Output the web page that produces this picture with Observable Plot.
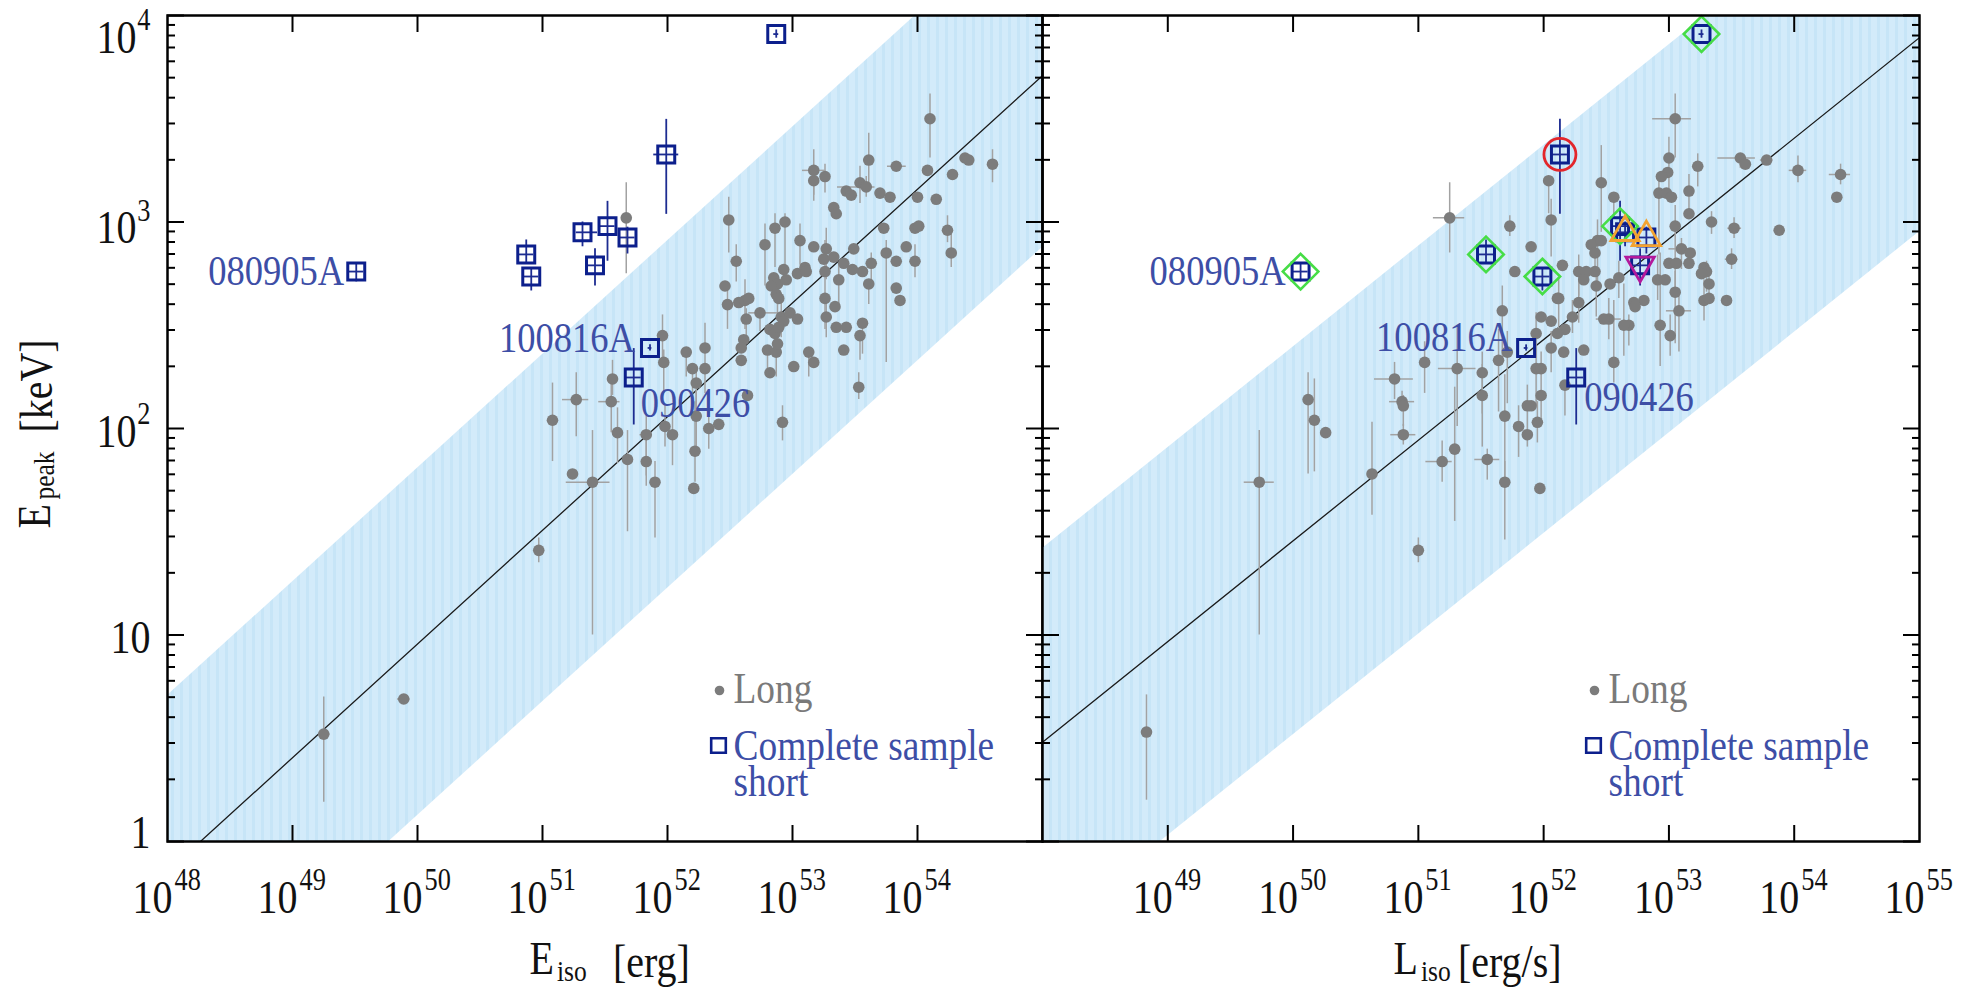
<!DOCTYPE html>
<html>
<head>
<meta charset="utf-8">
<script src="https://cdn.jsdelivr.net/npm/d3@7"></script>
<script src="https://cdn.jsdelivr.net/npm/@observablehq/plot@0.6"></script>
<style>
html, body { margin: 0; padding: 0; background: #fff; }
#chart { position: relative; width: 1975px; height: 988px; overflow: hidden; background: #fff; }
#chart svg { position: absolute; top: 0; }
</style>
</head>
<body>
<div id="chart"></div>
<script>
// ================= DATA =================
// Long GRBs, left panel: [log10 Eiso, log10 Epeak, errDown, errUp, errLeft, errRight] (dex)
const longEiso = [
  [54.10,3.50,0.19,0.12,0,0],[53.61,3.30,0.13,0.13,0,0],[53.83,3.27,0,0,0.07,0.08],[54.08,3.25,0,0,0,0],
  [54.38,3.31,0,0,0,0],[54.41,3.30,0,0,0,0],[54.60,3.28,0.09,0.07,0,0],[54.28,3.23,0,0,0,0],
  [53.17,3.25,0.12,0.10,0.09,0.09],[53.17,3.20,0.10,0,0,0],[53.26,3.22,0.08,0.06,0,0],[53.54,3.19,0.10,0.08,0,0],
  [53.59,3.17,0.05,0.05,0.23,0.07],[53.43,3.15,0,0,0,0],[53.47,3.13,0,0,0,0],[53.70,3.14,0,0,0,0],
  [53.78,3.12,0,0,0,0],[54.00,3.12,0,0,0,0],[54.15,3.11,0,0,0,0],[53.33,3.07,0,0,0,0],
  [53.35,3.04,0,0,0,0],[52.49,3.01,0.16,0.11,0,0],[52.86,2.97,0.19,0.07,0,0],[52.94,3.00,0.30,0.04,0,0],
  [53.73,2.97,0,0,0,0],[53.98,2.97,0,0,0,0],[54.01,2.98,0,0,0,0],[54.24,2.96,0.06,0.07,0,0],
  [52.78,2.89,0.20,0.10,0,0],[53.06,2.91,0.12,0.08,0,0],[53.17,2.88,0,0,0,0],[53.27,2.87,0.15,0.10,0,0],
  [53.49,2.87,0,0,0,0],[53.75,2.85,0.53,0.06,0,0],[53.91,2.88,0,0,0,0],[54.27,2.85,0.07,0.09,0,0],
  [52.55,2.81,0.10,0.08,0,0],[53.25,2.82,0,0,0,0],[53.33,2.83,0,0,0,0],[53.41,2.80,0,0,0,0],
  [53.63,2.80,0.10,0.05,0,0],[53.83,2.81,0,0,0,0],[53.98,2.81,0.08,0.08,0,0],[52.93,2.77,0,0,0,0],
  [53.04,2.75,0,0,0,0],[53.10,2.78,0,0,0,0],[53.11,2.76,0,0,0,0],[53.26,2.76,0,0,0,0],
  [53.48,2.77,0,0,0,0],[53.56,2.76,0,0,0,0],[52.85,2.73,0,0,0,0],[52.88,2.70,0.15,0,0,0],
  [52.95,2.72,0,0,0,0],[53.37,2.72,0.12,0.08,0,0],[53.61,2.70,0.10,0,0,0],[52.46,2.69,0,0,0,0],
  [52.83,2.69,0,0,0,0],[53.83,2.68,0,0,0,0],[53.86,2.62,0,0,0,0],[52.48,2.60,0.12,0.10,0,0],
  [52.57,2.61,0,0,0,0],[52.62,2.62,0.14,0.10,0,0],[52.65,2.63,0,0,0,0],[52.87,2.65,0,0,0,0],
  [52.89,2.63,0,0,0,0],[53.26,2.63,0.15,0.28,0,0],[53.34,2.59,0,0,0,0],[52.74,2.56,0.09,0,0.09,0.15],
  [52.63,2.53,0.10,0.05,0,0],[52.91,2.54,0.10,0.10,0,0],[52.98,2.56,0,0,0,0],[53.04,2.53,0,0,0,0],
  [52.93,2.52,0,0,0,0],[53.27,2.54,0.10,0.10,0,0],[53.56,2.51,0.15,0,0,0],[52.82,2.48,0,0,0,0],
  [52.86,2.46,0,0,0,0],[52.89,2.49,0,0,0,0],[53.35,2.49,0,0,0,0],[53.43,2.49,0,0,0,0],
  [53.54,2.45,0.12,0,0,0],[52.61,2.43,0,0,0,0],[52.59,2.39,0,0,0,0],[52.80,2.38,0.10,0,0,0],
  [52.87,2.37,0.12,0.12,0,0],[52.88,2.41,0,0,0,0],[53.13,2.37,0.12,0,0,0],[53.17,2.32,0,0,0,0],
  [53.41,2.38,0,0,0,0],[52.30,2.39,0.10,0.12,0,0],[52.15,2.37,0.12,0,0,0],[51.96,2.45,0.13,0.10,0,0],
  [51.97,2.32,0.15,0.06,0,0],[52.59,2.33,0,0,0,0],[52.20,2.29,0.15,0,0,0],[52.30,2.29,0.12,0,0,0],
  [52.23,2.22,0.15,0.08,0,0],[52.82,2.27,0,0,0,0],[53.01,2.30,0,0,0,0],[51.56,2.24,0.08,0.09,0,0],
  [51.55,2.13,0.15,0.10,0.10,0.07],[51.27,2.14,0.18,0.13,0.11,0.10],[52.64,2.16,0,0,0,0],[53.53,2.20,0.06,0.07,0,0],
  [51.08,2.04,0.20,0.18,0,0],[51.60,1.98,0.15,0.12,0,0],[51.83,1.97,0.20,0.10,0.05,0.05],[51.98,2.01,0.10,0.10,0,0],
  [52.04,1.97,0.15,0.10,0,0],[52.23,2.06,0.15,0.12,0,0],[52.33,2.00,0.10,0.08,0,0],[52.41,2.02,0,0,0,0],
  [52.92,2.03,0.09,0.08,0,0],[51.68,1.85,0.35,0.14,0,0],[51.83,1.84,0.12,0.10,0,0],[52.22,1.89,0.15,0.24,0,0],
  [51.24,1.78,0,0,0,0],[51.40,1.74,0.74,0.25,0.21,0.14],[51.90,1.74,0.27,0.10,0,0],[52.21,1.71,0,0,0,0],
  [51.67,3.02,0.27,0.17,0,0],[50.97,1.41,0.06,0.06,0,0],[49.25,0.52,0.33,0.18,0,0.05],[49.89,0.69,0,0,0.05,0.05]
];

// Long GRBs, right panel: [log10 Liso, log10 Epeak, errDown, errUp, errLeft, errRight] (dex)
const longLiso = [
  [51.25,3.02,0.17,0.17,0.13,0.12],[51.73,2.98,0.05,0.05,0,0],[51.90,2.88,0,0,0,0],[52.04,3.20,0.16,0,0,0],
  [52.06,3.01,0.18,0.10,0,0],[52.15,2.79,0,0,0,0],[51.77,2.76,0,0,0,0],[51.67,2.57,0.25,0.12,0,0],
  [52.11,2.63,0,0,0,0],[51.98,2.54,0,0,0,0],[52.06,2.52,0,0,0,0],[52.23,2.54,0.08,0.08,0,0],
  [52.17,2.48,0,0,0,0],[52.11,2.46,0,0,0,0],[51.94,2.46,0.12,0.10,0,0],[51.05,2.32,0.15,0.10,0,0],
  [51.31,2.29,0.28,0.20,0.15,0.15],[50.81,2.24,0.10,0.08,0.16,0.15],[51.51,2.27,0.20,0.10,0,0],[51.64,2.33,0.25,0.15,0,0],
  [51.71,2.37,0.25,0.10,0,0],[52.06,2.39,0.12,0.08,0,0],[52.16,2.37,0,0,0,0],[52.32,2.38,0,0,0,0],
  [51.94,2.29,0.18,0.10,0,0],[51.98,2.29,0.12,0.08,0,0],[51.98,2.16,0.12,0,0,0],[51.51,2.16,0.25,0.15,0,0],
  [51.69,2.06,0.30,0.20,0,0],[51.87,2.11,0.20,0.10,0,0],[51.90,2.11,0,0,0,0],[51.95,2.03,0.10,0.10,0,0],
  [51.80,2.01,0.15,0.10,0,0],[51.87,1.97,0,0,0,0],[50.12,2.14,0.36,0.13,0,0],[50.17,2.04,0.25,0.20,0,0],
  [50.26,1.98,0,0,0,0],[50.87,2.13,0.05,0.05,0.10,0.10],[50.88,2.11,0.10,0.05,0,0],[50.88,1.97,0.05,0.05,0.10,0.10],
  [51.29,1.90,0.35,0.30,0,0],[51.19,1.84,0.10,0.10,0.13,0.08],[51.55,1.85,0.10,0.05,0.10,0.10],[50.63,1.78,0.20,0.25,0,0],
  [49.73,1.74,0.74,0.25,0.12,0.12],[51.69,1.74,0.28,0.10,0,0],[51.97,1.71,0,0,0,0],
  [53.05,3.50,0.19,0.12,0.18,0.13],[53.57,3.31,0.05,0,0.18,0.12],[53.61,3.28,0,0,0,0],[53.78,3.30,0,0,0.05,0.05],
  [54.03,3.25,0.06,0.07,0.07,0.07],[54.37,3.23,0.05,0.05,0.09,0.08],[54.34,3.12,0,0,0,0],[53.88,2.96,0,0,0,0],
  [53.23,3.27,0.10,0.06,0,0],[53.00,3.31,0.20,0.10,0,0],[52.99,3.24,0,0,0,0],[52.94,3.22,0,0,0,0],
  [52.92,3.14,0.30,0.10,0,0],[52.98,3.14,0,0,0,0],[53.02,3.12,0,0,0,0],[53.16,3.15,0.10,0.08,0,0],
  [52.46,3.19,0.24,0.18,0,0],[52.56,3.12,0.10,0,0,0],[53.34,3.00,0.06,0.05,0,0],[53.52,2.97,0.05,0.05,0.05,0.06],
  [53.05,2.98,0.30,0.10,0,0],[53.16,3.04,0,0,0,0],[53.50,2.82,0.05,0.05,0.05,0.05],[53.10,2.87,0.10,0.05,0.10,0.10],
  [53.17,2.85,0,0,0,0],[53.16,2.80,0,0,0,0],[53.00,2.80,0,0,0,0],[53.06,2.80,0,0,0,0],
  [53.28,2.78,0,0,0,0],[53.30,2.76,0.10,0.05,0,0],[53.26,2.75,0,0,0,0],[53.32,2.70,0.10,0.05,0,0],
  [53.28,2.62,0.10,0.10,0,0],[53.32,2.63,0,0,0,0],[53.46,2.62,0,0,0,0],[53.05,2.66,0.25,0.10,0,0],
  [53.08,2.57,0.20,0.10,0.10,0.10],[53.01,2.45,0.10,0.10,0,0],[52.93,2.50,0.20,0.35,0,0],[52.91,2.72,0.10,0.12,0,0],
  [52.97,2.72,0,0,0,0],[52.80,2.62,0,0,0,0],[52.72,2.61,0,0,0,0],[52.73,2.59,0,0,0,0],
  [52.68,2.50,0.10,0.05,0,0],[52.64,2.50,0.15,0.20,0,0],[52.52,2.53,0.10,0.10,0.10,0.10],[52.48,2.53,0,0,0,0],
  [52.56,2.32,0.10,0.30,0,0],[52.60,2.73,0.10,0.08,0,0],[52.53,2.70,0,0,0,0],[52.43,2.91,0.20,0.10,0,0],
  [52.38,2.89,0,0,0,0],[52.41,2.85,0.10,0,0,0],[52.46,2.91,0,0,0,0],[52.28,2.76,0.12,0.08,0,0],
  [52.34,2.76,0,0,0,0],[52.32,2.72,0,0,0,0],[52.41,2.76,0,0,0,0],[52.42,2.69,0.15,0.08,0,0],
  [52.28,2.61,0.10,0.10,0,0],[52.12,2.63,0.15,0.10,0,0],[52.17,2.21,0.15,0,0,0],
  [51.00,1.41,0.06,0.06,0,0],[48.83,0.53,0.33,0.18,0,0]
];

// Short GRBs (complete sample)
const shortNames     = ["080905A","","","","","","","","100816A","090426",""];
const shortLogEiso   = [49.51,50.87,50.91,51.32,51.52,51.42,51.68,51.99,51.86,51.73,52.87];
const shortLogLiso   = [50.06,51.54,51.99,52.65,52.61,52.77,52.82,52.13,51.86,52.26,53.26];
const shortLogEp     = [2.760,2.843,2.736,2.950,2.980,2.790,2.925,3.327,2.390,2.247,3.910];
const shortEpErrDown = [0.05,0.04,0.07,0.07,0.17,0.10,0.08,0.29,0.015,0.23,0.02];
const shortEpErrUp   = [0.04,0.07,0.04,0.05,0.12,0.08,0.05,0.17,0.015,0.14,0.02];
const shortEisoErrL  = [0.06,0.06,0.06,0.05,0.06,0.06,0.06,0.10,0.015,0.06,0.02];
const shortEisoErrR  = [0.06,0.06,0.06,0.12,0.06,0.06,0.06,0.10,0.015,0.06,0.02];
const shortLisoErr   = [0.06,0.06,0.06,0.06,0.06,0.06,0.06,0.06,0.015,0.06,0.02];
const shortMarker    = ["diamond","diamond","diamond","triangleUp","diamond","triangleDown","triangleUp","circle","","","diamond"];

// Correlation lines and 3-sigma bands: [log10 x, log10 Epeak] at panel edges
const amatiFit        = [[48,-0.145],[55,3.709]];
const amatiBandUpper  = [[48, 0.707],[55,4.560]];
const amatiBandLower  = [[48,-0.975],[55,2.877]];
const yonetokuFit       = [[48,0.481],[55,3.893]];
const yonetokuBandUpper = [[48,1.419],[55,4.833]];
const yonetokuBandLower = [[48,-0.459],[55,2.953]];

// Ticks and tick labels
const xTickValues   = [1e49,1e50,1e51,1e52,1e53,1e54];
const xLabelExpLeft = [48,49,50,51,52,53,54];
const xLabelExpRight= [49,50,51,52,53,54,55];
const yMajorTicks   = [1,10,100,1000,10000];
const yMinorTicks   = [2,3,4,5,6,7,8,9,20,30,40,50,60,70,80,90,200,300,400,500,600,700,800,900,2000,3000,4000,5000,6000,7000,8000,9000];
const yTickLabels   = [{v:1,base:"1",exp:""},{v:10,base:"10",exp:""},{v:100,base:"10",exp:"2"},{v:1000,base:"10",exp:"3"},{v:10000,base:"10",exp:"4"}];
const legendLabels  = ["Long","Complete sample\nshort"];

// ================= HELPERS =================
const SERIF = "Liberation Serif";
const rows = arr => arr.map(([lx, ly, dn, up, lf, rt]) => ({
  x: 10 ** lx, y: 10 ** ly, y1: 10 ** (ly - dn), y2: 10 ** (ly + up),
  x1: 10 ** (lx - lf), x2: 10 ** (lx + rt), v: dn > 0 || up > 0, h: lf > 0 || rt > 0
}));
const lineRows = arr => arr.map(([lx, ly]) => ({x: 10 ** lx, y: 10 ** ly}));
const bandRows = (up, lo) => up.map(([lx, hi], i) => ({x: 10 ** lx, hi: 10 ** hi, lo: 10 ** lo[i][1]}));
const shortRows = (xs, errL, errR) => shortLogEp.map((ly, i) => ({
  name: shortNames[i], marker: shortMarker[i],
  x: 10 ** xs[i], y: 10 ** ly,
  y1: 10 ** (ly - shortEpErrDown[i]), y2: 10 ** (ly + shortEpErrUp[i]),
  x1: 10 ** (xs[i] - errL[i]), x2: 10 ** (xs[i] + errR[i])
}));
const triangleDown = {
  draw(context, size) {
    const s = Math.sqrt(size) * 0.6824, t = s / 2, u = s * Math.sqrt(3) / 2;
    context.moveTo(0, s); context.lineTo(u, -t); context.lineTo(-u, -t); context.closePath();
  }
};

// font sizes (text is later condensed horizontally, like the original narrow Times face)
const FS_TICK = 47, FS_EXP = 31, FS_TITLE = 47, FS_SUB = 30, FS_LABEL = 43, FS_LEGEND = 44;

function buildPanel(cfg) {
  const {width, marginLeft, marginRight, left, longData, shorts, fit, band, patternId,
         xExps, showYLabels, title, labelStyles, showMarkers} = cfg;
  const labelBlue = "#3d4ea6";
  const T = {fontFamily: SERIF, lineAnchor: "middle"};
  const marks = [
    Plot.areaY(band, {x: "x", y1: "lo", y2: "hi", fill: `url(#${patternId})`, clip: true}),
    Plot.line(fit, {x: "x", y: "y", stroke: "#1a1a1a", strokeWidth: 1.3, clip: true}),
    Plot.ruleX(longData.filter(d => d.v), {x: "x", y1: "y1", y2: "y2", stroke: "#a2a2a2", strokeWidth: 1.5, clip: true}),
    Plot.ruleY(longData.filter(d => d.h), {y: "y", x1: "x1", x2: "x2", stroke: "#a2a2a2", strokeWidth: 1.5, clip: true}),
    Plot.dot(longData, {x: "x", y: "y", r: 5.8, fill: "#7c7c7c"}),
    Plot.ruleX(shorts, {x: "x", y1: "y1", y2: "y2", stroke: "#1d2c91", strokeWidth: 1.8}),
    Plot.ruleY(shorts, {y: "y", x1: "x1", x2: "x2", stroke: "#1d2c91", strokeWidth: 1.8}),
    Plot.dot(shorts, {x: "x", y: "y", symbol: "square2", r: 10.8, stroke: "#0c1f8c", strokeWidth: 3, fill: "none"})
  ];
  if (showMarkers) {
    marks.push(
      Plot.dot(shorts.filter(d => d.marker === "diamond"), {x: "x", y: "y", symbol: "diamond2", r: 16, stroke: "#46dd46", strokeWidth: 2.6, fill: "none"}),
      Plot.dot(shorts.filter(d => d.marker === "circle"), {x: "x", y: "y", symbol: "circle", r: 16, stroke: "#e3262b", strokeWidth: 2.8, fill: "none"}),
      Plot.dot(shorts.filter(d => d.marker === "triangleUp"), {x: "x", y: "y", symbol: "triangle2", r: 13.5, stroke: "#f3a331", strokeWidth: 2.8, fill: "none"}),
      Plot.dot(shorts.filter(d => d.marker === "triangleDown"), {x: "x", y: "y", symbol: triangleDown, r: 13.5, stroke: "#b3199c", strokeWidth: 2.8, fill: "none"})
    );
  }
  for (const ls of labelStyles) {
    marks.push(Plot.text(shorts.filter(d => d.name === ls.name), {
      x: "x", y: "y", text: "name", textAnchor: ls.anchor, dx: ls.dx, dy: ls.dy,
      fill: labelBlue, fontSize: FS_LABEL, ...T
    }));
  }
  // legend (inside the frame)
  marks.push(
    Plot.dot([0], {frameAnchor: "bottom-left", dx: 552, dy: -151, r: 4.8, fill: "#7c7c7c"}),
    Plot.text([legendLabels[0]], {text: d => d, frameAnchor: "bottom-left", dx: 566, dy: -153, textAnchor: "start", fill: "#7a7a7a", fontSize: FS_LEGEND, ...T}),
    Plot.dot([0], {frameAnchor: "bottom-left", dx: 551, dy: -96, symbol: "square2", r: 9.3, stroke: "#0c1f8c", strokeWidth: 2.6, fill: "none"}),
    Plot.text([legendLabels[1]], {text: d => d, frameAnchor: "bottom-left", dx: 566, dy: -75, lineHeight: 0.82, textAnchor: "start", fill: labelBlue, fontSize: FS_LEGEND, ...T})
  );
  // x tick labels 10^n
  marks.push(
    Plot.text(xExps, {x: d => 10 ** d, text: () => "10", frameAnchor: "bottom", textAnchor: "end", dx: 5, dy: 56, fontSize: FS_TICK, fill: "#111", ...T}),
    Plot.text(xExps, {x: d => 10 ** d, text: d => String(d), frameAnchor: "bottom", textAnchor: "start", dx: 7, dy: 39, fontSize: FS_EXP, fill: "#111", ...T})
  );
  // x title
  marks.push(
    Plot.text([title.main], {text: d => d, frameAnchor: "bottom", textAnchor: "end", dx: title.mainEnd, dy: 117, fontSize: FS_TITLE, fill: "#111", ...T}),
    Plot.text([title.sub], {text: d => d, frameAnchor: "bottom", textAnchor: "start", dx: title.subStart, dy: 130, fontSize: FS_SUB, fill: "#111", ...T}),
    Plot.text([title.rest], {text: d => d, frameAnchor: "bottom", textAnchor: "start", dx: title.restStart, dy: 120, fontSize: FS_TITLE, fill: "#111", ...T})
  );
  if (showYLabels) {
    for (const lab of yTickLabels) {
      const dy = lab.v === 10000 ? 22 : lab.v === 1 ? -9 : lab.v === 1000 ? 6 : 3;
      marks.push(Plot.text([lab], {y: "v", text: "base", frameAnchor: "left", textAnchor: "end",
        dx: lab.exp ? -31 : -17, dy, fontSize: FS_TICK, fill: "#111", ...T}));
      if (lab.exp) marks.push(Plot.text([lab], {y: "v", text: "exp", frameAnchor: "left", textAnchor: "end",
        dx: -17, dy: dy - 17, fontSize: FS_EXP, fill: "#111", ...T}));
    }
    marks.push(
      Plot.text(["E"], {text: d => d, frameAnchor: "left", rotate: -90, textAnchor: "start", dx: -133, dy: 100, fontSize: FS_TITLE, fill: "#111", ...T}),
      Plot.text(["peak"], {text: d => d, frameAnchor: "left", rotate: -90, textAnchor: "start", dx: -123, dy: 71, fontSize: FS_SUB, fill: "#111", ...T}),
      Plot.text(["[keV]"], {text: d => d, frameAnchor: "left", rotate: -90, textAnchor: "start", dx: -131, dy: 4, fontSize: FS_TITLE, fill: "#111", ...T})
    );
  }
  // axes ticks (inward) and frame
  const tickStyle = {fill: "none", label: null, stroke: "#000", strokeWidth: 2};
  marks.push(
    Plot.axisY({anchor: "left", ticks: yMajorTicks, tickSize: -17, ...tickStyle}),
    Plot.axisY({anchor: "right", ticks: yMajorTicks, tickSize: -17, ...tickStyle}),
    Plot.axisY({anchor: "left", ticks: yMinorTicks, tickSize: -8, ...tickStyle}),
    Plot.axisY({anchor: "right", ticks: yMinorTicks, tickSize: -8, ...tickStyle}),
    Plot.axisX({anchor: "bottom", ticks: xTickValues, tickSize: -16, ...tickStyle}),
    Plot.axisX({anchor: "top", ticks: xTickValues, tickSize: -16, ...tickStyle}),
    Plot.frame({stroke: "#000", strokeWidth: 2.5})
  );

  const svg = Plot.plot({
    width, height: 988,
    marginLeft, marginRight, marginTop: 15, marginBottom: 147,
    x: {type: "log", domain: [1e48, 1e55]},
    y: {type: "log", domain: [1, 1e4]},
    style: {background: "transparent", fontFamily: SERIF, overflow: "visible"},
    marks
  });
  const defs = d3.select(svg).insert("defs", ":first-child");
  const p = defs.append("pattern").attr("id", patternId).attr("patternUnits", "userSpaceOnUse")
    .attr("width", 9).attr("height", 20);
  p.append("rect").attr("width", 9).attr("height", 20).attr("fill", "#d3ebfa");
  p.append("rect").attr("width", 3).attr("height", 20).attr("fill", "#c7e5f7");
  svg.style.left = left + "px";
  svg.style.maxWidth = "none";
  return svg;
}

// narrow the serif glyphs horizontally (the original uses a condensed Times face)
function condense(svg, k) {
  svg.querySelectorAll("text").forEach(t => {
    const tr = t.getAttribute("transform");
    if (tr) t.setAttribute("transform", `${tr} scale(${k},1)`);
  });
}

const chart = document.getElementById("chart");
const leftSvg = buildPanel({
  width: 1062, marginLeft: 167, marginRight: 20, left: 0,
  longData: rows(longEiso),
  shorts: shortRows(shortLogEiso, shortEisoErrL, shortEisoErrR),
  fit: lineRows(amatiFit), band: bandRows(amatiBandUpper, amatiBandLower),
  patternId: "stripesLeft", xExps: xLabelExpLeft, showYLabels: true, showMarkers: false,
  title: {main: "E", sub: "iso", rest: "[erg]", mainEnd: -51, subStart: -48, restStart: 8},
  labelStyles: [
    {name: "080905A", anchor: "end", dx: -12, dy: 0},
    {name: "100816A", anchor: "end", dx: -15, dy: -10},
    {name: "090426", anchor: "start", dx: 7, dy: 26}
  ]
});
const rightSvg = buildPanel({
  width: 953, marginLeft: 20, marginRight: 56, left: 1022,
  longData: rows(longLiso),
  shorts: shortRows(shortLogLiso, shortLisoErr, shortLisoErr),
  fit: lineRows(yonetokuFit), band: bandRows(yonetokuBandUpper, yonetokuBandLower),
  patternId: "stripesRight", xExps: xLabelExpRight, showYLabels: false, showMarkers: true,
  title: {main: "L", sub: "iso", rest: "[erg/s]", mainEnd: -63, subStart: -60, restStart: -23},
  labelStyles: [
    {name: "080905A", anchor: "end", dx: -15, dy: 0},
    {name: "100816A", anchor: "end", dx: -14, dy: -11},
    {name: "090426", anchor: "start", dx: 8, dy: 20}
  ]
});
chart.appendChild(leftSvg);
chart.appendChild(rightSvg);
condense(leftSvg, 0.85);
condense(rightSvg, 0.85);
</script>
</body>
</html>
